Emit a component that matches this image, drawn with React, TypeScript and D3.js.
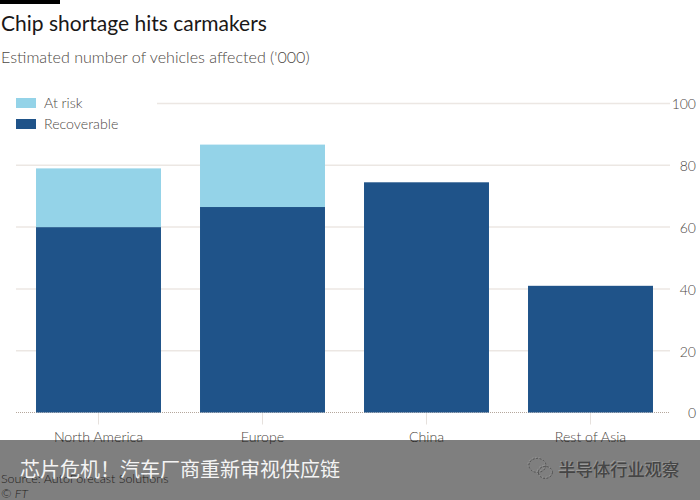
import { useEffect, useRef } from 'react';
import * as d3 from 'd3';

const regions = ['North America', 'Europe', 'China', 'Rest of Asia'];
const recoverable = [60, 66.5, 74.5, 41];
const atRisk = [19, 20.2, 0, 0];
const yTicks = [0, 20, 40, 60, 80, 100];
const legendItems = ['At risk', 'Recoverable'];
const legendColors = ['#94d3e8', '#1f5389'];

const latin = 'Lato, "Noto Sans", sans-serif';
const cjk = '"Noto Sans CJK SC", sans-serif';
const grey = '#4d4844';

export default function App() {
  const ref = useRef<SVGSVGElement>(null);

  useEffect(() => {
    const svg = d3.select(ref.current);
    svg.selectAll('*').remove();

    const xScale = d3.scaleBand<string>()
      .domain(regions)
      .range([16.5, 672.5])
      .paddingInner(0.238)
      .paddingOuter(0.119);
    const yScale = d3.scaleLinear().domain([0, 100]).range([412.5, 103.5]);

    svg.append('rect').attr('width', 700).attr('height', 500).attr('fill', '#fff');
    svg.append('rect').attr('width', 60).attr('height', 4).attr('fill', '#000');

    svg.append('text').attr('x', 1).attr('y', 31)
      .attr('font-family', latin).attr('font-size', 21).attr('fill', '#1a1717')
      .text('Chip shortage hits carmakers');
    svg.append('text').attr('x', 1).attr('y', 63)
      .attr('font-family', latin).attr('font-size', 16.1).attr('font-weight', 300).attr('fill', grey)
      .text("Estimated number of vehicles affected ('000)");

    // grid and right hand labels
    const yAxis = svg.append('g')
      .attr('transform', 'translate(670, 1)')
      .call(d3.axisRight(yScale).tickValues(yTicks).tickSize(0).tickPadding(26));
    yAxis.select('.domain').remove();
    yAxis.selectAll('text')
      .attr('text-anchor', 'end')
      .attr('font-family', latin).attr('font-size', 14).attr('font-weight', 300).attr('fill', grey);
    svg.append('g').selectAll('line')
      .data(yTicks.filter(d => d > 0))
      .enter()
      .append('line')
      .attr('x1', d => d === 100 ? 157 : 16)
      .attr('x2', 670)
      .attr('y1', d => yScale(d))
      .attr('y2', d => yScale(d))
      .attr('stroke', '#ece7e3')
      .attr('stroke-width', 1.5);

    // category axis
    const xAxis = svg.append('g')
      .attr('transform', `translate(0, ${yScale(0)})`)
      .call(d3.axisBottom(xScale).tickSize(12).tickPadding(7));
    xAxis.select('.domain').remove();
    xAxis.selectAll('line').attr('stroke', '#e6e1dd');
    xAxis.selectAll('text')
      .attr('font-family', latin).attr('font-size', 14.2).attr('font-weight', 300).attr('fill', grey);

    svg.append('line')
      .attr('x1', 16).attr('x2', 670)
      .attr('y1', yScale(0)).attr('y2', yScale(0))
      .attr('stroke', '#b5a79c').attr('stroke-width', 1).attr('stroke-dasharray', '1 1');

    const bars = svg.append('g');
    bars.selectAll('.recoverable')
      .data(regions)
      .enter()
      .append('rect')
      .attr('class', 'recoverable')
      .attr('x', d => xScale(d) as number)
      .attr('width', xScale.bandwidth())
      .attr('y', (d, i) => yScale(recoverable[i]))
      .attr('height', (d, i) => yScale(0) - yScale(recoverable[i]))
      .attr('fill', legendColors[1]);
    bars.selectAll('.at-risk')
      .data(regions.filter((d, i) => atRisk[i] > 0))
      .enter()
      .append('rect')
      .attr('class', 'at-risk')
      .attr('x', d => xScale(d) as number)
      .attr('width', xScale.bandwidth())
      .attr('y', d => {
        const i = regions.indexOf(d);
        return yScale(recoverable[i] + atRisk[i]);
      })
      .attr('height', d => yScale(0) - yScale(atRisk[regions.indexOf(d)]))
      .attr('fill', legendColors[0]);

    // legend
    const legend = svg.append('g');
    legendItems.forEach((item, i) => {
      const y = 98 + i * 21;
      legend.append('rect').attr('x', 16).attr('y', y).attr('width', 20).attr('height', 10)
        .attr('fill', legendColors[i]);
      legend.append('text').attr('x', 44).attr('y', y + 10)
        .attr('font-family', latin).attr('font-size', 14.2).attr('font-weight', 300).attr('fill', grey)
        .text(item);
    });

    svg.append('text').attr('x', 1).attr('y', 483)
      .attr('font-family', latin).attr('font-size', 12.5).attr('font-weight', 300).attr('fill', grey)
      .text('Source: AutoForecast Solutions');
    svg.append('text').attr('x', 1).attr('y', 498)
      .attr('font-family', latin).attr('font-size', 12.5).attr('font-weight', 300).attr('font-style', 'italic').attr('fill', grey)
      .text('© FT');

    // article banner over the bottom of the chart
    svg.append('rect').attr('x', 0).attr('y', 440).attr('width', 700).attr('height', 60)
      .attr('fill', '#000').attr('fill-opacity', 0.5);
    svg.append('text').attr('x', 20).attr('y', 477)
      .attr('font-family', cjk).attr('font-size', 20).attr('fill', '#f4f4f4')
      .text('芯片危机！汽车厂商重新审视供应链');

    // watermark, embossed look
    const drawMark = (dx: number, dy: number, color: string, opacity: number, weight: number) => {
      const g = svg.append('g')
        .attr('transform', `translate(${dx}, ${dy})`)
        .attr('opacity', opacity);
      const logo = g.append('g')
        .attr('fill', 'none').attr('stroke', color).attr('stroke-width', 0.8)
        .attr('stroke-dasharray', '2 1.5');
      logo.append('ellipse').attr('cx', 537).attr('cy', 465).attr('rx', 8.5).attr('ry', 7);
      logo.append('ellipse').attr('cx', 545).attr('cy', 472).attr('rx', 7).attr('ry', 6);
      g.append('text').attr('x', 558).attr('y', 476)
        .attr('font-family', cjk).attr('font-size', 17.3).attr('font-weight', weight).attr('fill', color)
        .text('半导体行业观察');
    };
    drawMark(-0.6, -0.6, '#a6a6a6', 0.7, 400);
    drawMark(0.4, 0.4, '#3a3a3a', 0.85, 500);
  }, []);

  return (
    <svg
      ref={ref}
      width={700}
      height={500}
      viewBox="0 0 700 500"
      style={{ position: 'absolute', left: 0, top: 0, display: 'block' }}
    />
  );
}
